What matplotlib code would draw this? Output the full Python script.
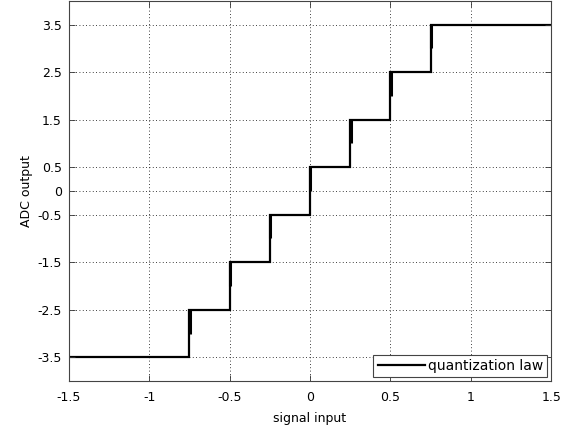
import matplotlib
matplotlib.use("Agg")
import matplotlib.pyplot as plt

plt.rcParams['font.family'] = ['DejaVu Sans']

# quantizer: 8 levels between thresholds
edges = [-1.5, -0.75, -0.5, -0.25, 0, 0.25, 0.5, 0.75, 1.5]
levels = [-3.5, -2.5, -1.5, -0.5, 0.5, 1.5, 2.5, 3.5]

xticks = [-1.5, -1, -0.5, 0, 0.5, 1, 1.5]
xticklabels = ['-1.5', '-1', '-0.5', '0', '0.5', '1', '1.5']
yticks = [-3.5, -2.5, -1.5, -0.5, 0, 0.5, 1.5, 2.5, 3.5]
yticklabels = ['-3.5', '-2.5', '-1.5', '-0.5', '0', '0.5', '1.5', '2.5', '3.5']

fig = plt.figure(figsize=(5.79, 4.34), dpi=100)
ax = fig.add_axes([0.119, 0.122, 0.833, 0.876])

ax.stairs(levels, edges, baseline=None, color='black', linewidth=1.6,
          label='quantization law')
# slightly thicker upper half of each riser, as in the original render
risers_x = [e + 0.002 for e in edges[1:-1]]
ax.vlines(risers_x, [l - 0.5 for l in levels[1:]], levels[1:],
          color='black', linewidth=2.2)

ax.set_xlim(-1.5, 1.5)
ax.set_ylim(-4, 4)
ax.set_xticks(xticks)
ax.set_xticklabels(xticklabels)
ax.set_yticks(yticks)
ax.set_yticklabels(yticklabels)
ax.tick_params(direction='in', top=True, right=True, labelsize=9, length=4,
               width=0.6, colors='#333333', labelcolor='black')
ax.tick_params(axis='x', pad=7)
ax.tick_params(axis='y', pad=5)
ax.grid(True, linestyle=(0, (1, 3)), color='black', linewidth=0.6)
for s in ax.spines.values():
    s.set_linewidth(0.8)
    s.set_color('#444444')

ax.set_xlabel('signal input', fontsize=9, labelpad=6)
ax.set_ylabel('ADC output', fontsize=9, labelpad=3)

leg = ax.legend(loc='lower right', fontsize=10, fancybox=False, framealpha=1,
                edgecolor='#444444', handlelength=3.4, borderpad=0.3,
                borderaxespad=0.3, handletextpad=0.2)
leg.get_frame().set_linewidth(0.8)

fig.savefig('out.png', dpi=100)
